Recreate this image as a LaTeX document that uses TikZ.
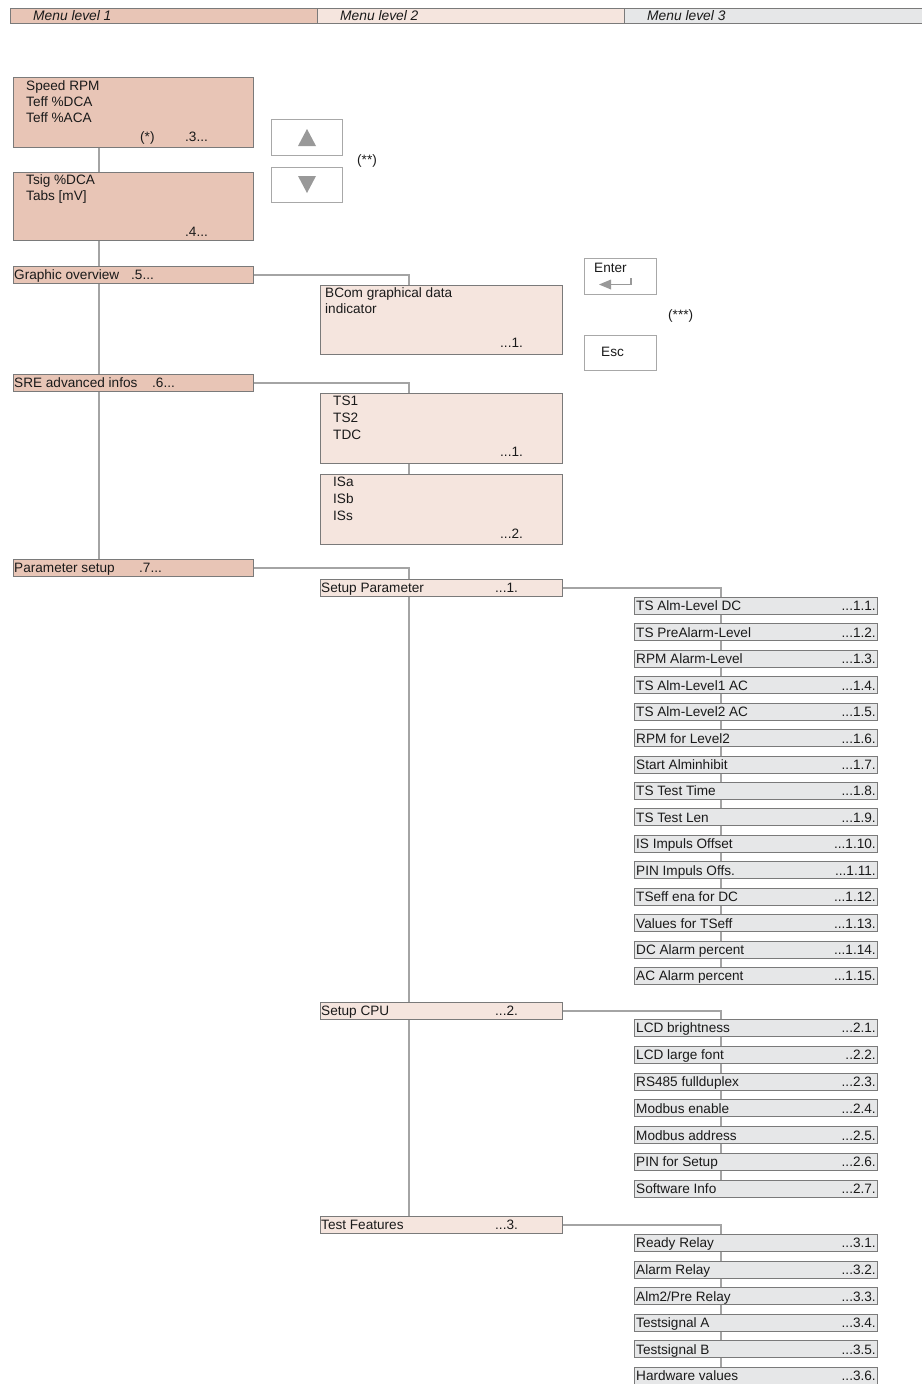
\documentclass[tikz,border=0pt]{standalone}
\usepackage{fontspec}
\setmainfont{Liberation Sans}
\definecolor{lonec}{HTML}{E8C5B6}
\definecolor{ltwoc}{HTML}{F5E5DE}
\definecolor{lthrc}{HTML}{E6E7E8}
\definecolor{bordc}{HTML}{7A7A7A}
\definecolor{connc}{HTML}{A4A4A4}
\definecolor{btnc}{HTML}{A8A8A8}
\definecolor{txtc}{HTML}{1A1A1A}
\definecolor{tric}{HTML}{999999}
\newcommand\mkthree[4]{%
  \node[lthr, anchor=west, minimum width=243pt, minimum height=17pt] (#1) at (634,#2) {};
  \node[txt] at ([xshift=2pt]#1.west) {#3};
  \node[txt, anchor=base east] at ([xshift=-2pt]#1.east) {#4};
}
\begin{document}
\begin{tikzpicture}[x=1pt,y=-1pt]
\tikzset{
  box/.style={draw=bordc, line width=0.9pt, inner sep=0pt, anchor=north west},
  lone/.style={box, fill=lonec},
  ltwo/.style={box, fill=ltwoc},
  lthr/.style={box, fill=lthrc},
  hdr/.style={draw=bordc, line width=0.9pt, inner sep=0pt, anchor=north west, minimum height=15pt},
  txt/.style={inner sep=0pt, anchor=base west, yshift=-4.9pt, font=\fontsize{13.6}{15}\selectfont, text=txtc},
  htxt/.style={txt, font=\fontsize{13.8}{15}\selectfont\itshape},
  conn/.style={draw=connc, line width=1.1pt},
  btn/.style={draw=btnc, line width=0.8pt, fill=white, inner sep=0pt, anchor=north west},
}
\useasboundingbox (0,0) rectangle (921,1384);
% header
\node[hdr, fill=lonec, minimum width=307pt] (h1) at (10,8) {};
\node[hdr, fill=ltwoc, minimum width=307pt] (h2) at (317,8) {};
\node[hdr, fill=lthrc, minimum width=310pt] (h3) at (624,8) {};
\node[htxt] at (33,15.5) {Menu level 1};
\node[htxt] at (340,15.5) {Menu level 2};
\node[htxt] at (647,15.5) {Menu level 3};

% trunk coordinates
\coordinate (t1) at (99,0);
\coordinate (t2) at (409,0);
\coordinate (t3) at (721,0);

% level 1
\node[lone, minimum width=240pt, minimum height=70pt] (bA) at (13,77) {};
\node[txt] at (26,86) {Speed RPM};
\node[txt] at (26,102) {Teff \%DCA};
\node[txt] at (26,118) {Teff \%ACA};
\node[txt] at (140,137) {(*)};
\node[txt] at (185,137) {.3...};

\node[lone, minimum width=240pt, minimum height=68pt] (bB) at (13,172) {};
\node[txt] at (26,180) {Tsig \%DCA};
\node[txt] at (26,196) {Tabs [mV]};
\node[txt] at (185,232) {.4...};

\node[lone, minimum width=240pt, minimum height=17pt] (go) at (13,266) {};
\node[txt] at (14,274.5) {Graphic overview};
\node[txt] at (131,274.5) {.5...};

\node[lone, minimum width=240pt, minimum height=17pt] (sre) at (13,374) {};
\node[txt] at (14,382.5) {SRE advanced infos};
\node[txt] at (152,382.5) {.6...};

\node[lone, minimum width=240pt, minimum height=17pt] (ps) at (13,559) {};
\node[txt] at (14,567.5) {Parameter setup};
\node[txt] at (139,567.5) {.7...};

\draw[conn] (bA.south -| t1) -- (bB.north -| t1);
\draw[conn] (bB.south -| t1) -- (go.north -| t1);
\draw[conn] (go.south -| t1) -- (sre.north -| t1);
\draw[conn] (sre.south -| t1) -- (ps.north -| t1);

% buttons
\node[btn, minimum width=71pt, minimum height=36pt] (up) at (271,119) {};
\fill[tric] (298,146) -- (307,129) -- (316,146) -- cycle;
\node[btn, minimum width=71pt, minimum height=35pt] (dn) at (271,167) {};
\fill[tric] (298,176) -- (307,193) -- (316,176) -- cycle;
\node[txt] at (357,160) {(**)};

\node[btn, minimum width=72pt, minimum height=36pt] (en) at (584,258) {};
\node[txt] at (594,268) {Enter};
\draw[tric, line width=1.1pt] (631,278) -- (631,284.5) -- (609,284.5);
\fill[tric] (599,284.5) -- (611,279.5) -- (611,289.5) -- cycle;
\node[txt] at (668,315) {(***)};
\node[btn, minimum width=72pt, minimum height=35pt] (esc) at (584,335) {};
\node[txt] at (601,352) {Esc};

% level 2
\node[ltwo, minimum width=242pt, minimum height=69pt] (bc) at (320,285) {};
\node[txt] at (325,292.5) {BCom graphical data};
\node[txt] at (325,308.5) {indicator};
\node[txt] at (500,342.5) {...1.};
\draw[conn] (go.east) -| (bc.north -| t2);

\node[ltwo, minimum width=242pt, minimum height=70pt] (ts) at (320,393) {};
\node[txt] at (333,400.5) {TS1};
\node[txt] at (333,417.5) {TS2};
\node[txt] at (333,434.5) {TDC};
\node[txt] at (500,451.5) {...1.};
\draw[conn] (sre.east) -| (ts.north -| t2);

\node[ltwo, minimum width=242pt, minimum height=70pt] (is) at (320,474) {};
\node[txt] at (333,482) {ISa};
\node[txt] at (333,498.5) {ISb};
\node[txt] at (333,516) {ISs};
\node[txt] at (500,533.5) {...2.};
\draw[conn] (ts.south -| t2) -- (is.north -| t2);

\node[ltwo, minimum width=242pt, minimum height=17pt] (sp) at (320,579) {};
\node[txt] at (321,588) {Setup Parameter};
\node[txt] at (495,588) {...1.};
\node[ltwo, minimum width=242pt, minimum height=17pt] (cpu) at (320,1002) {};
\node[txt] at (321,1010.5) {Setup CPU};
\node[txt] at (495,1010.5) {...2.};
\node[ltwo, minimum width=242pt, minimum height=17pt] (tf) at (320,1216) {};
\node[txt] at (321,1224.5) {Test Features};
\node[txt] at (495,1224.5) {...3.};
\draw[conn] (ps.east) -| (sp.north -| t2);
\draw[conn] (sp.south -| t2) -- (cpu.north -| t2);
\draw[conn] (cpu.south -| t2) -- (tf.north -| t2);

% level 3
\mkthree{a1}{606}{TS Alm-Level DC}{...1.1.}
\mkthree{a2}{632.4}{TS PreAlarm-Level}{...1.2.}
\mkthree{a3}{658.9}{RPM Alarm-Level}{...1.3.}
\mkthree{a4}{685.3}{TS Alm-Level1 AC}{...1.4.}
\mkthree{a5}{711.7}{TS Alm-Level2 AC}{...1.5.}
\mkthree{a6}{738.2}{RPM for Level2}{...1.6.}
\mkthree{a7}{764.6}{Start Alminhibit}{...1.7.}
\mkthree{a8}{791}{TS Test Time}{...1.8.}
\mkthree{a9}{817.4}{TS Test Len}{...1.9.}
\mkthree{a10}{843.9}{IS Impuls Offset}{...1.10.}
\mkthree{a11}{870.3}{PIN Impuls Offs.}{...1.11.}
\mkthree{a12}{896.7}{TSeff ena for DC}{...1.12.}
\mkthree{a13}{923.2}{Values for TSeff}{...1.13.}
\mkthree{a14}{949.6}{DC Alarm percent}{...1.14.}
\mkthree{a15}{976}{AC Alarm percent}{...1.15.}

\mkthree{b1}{1028}{LCD brightness}{...2.1.}
\mkthree{b2}{1054.8}{LCD large font}{..2.2.}
\mkthree{b3}{1081.6}{RS485 fullduplex}{...2.3.}
\mkthree{b4}{1108.4}{Modbus enable}{...2.4.}
\mkthree{b5}{1135.2}{Modbus address}{...2.5.}
\mkthree{b6}{1162}{PIN for Setup}{...2.6.}
\mkthree{b7}{1188.8}{Software Info}{...2.7.}

\mkthree{c1}{1243}{Ready Relay}{...3.1.}
\mkthree{c2}{1269.6}{Alarm Relay}{...3.2.}
\mkthree{c3}{1296.2}{Alm2/Pre Relay}{...3.3.}
\mkthree{c4}{1322.8}{Testsignal A}{...3.4.}
\mkthree{c5}{1349.4}{Testsignal B}{...3.5.}
\mkthree{c6}{1376}{Hardware values}{...3.6.}

\draw[conn] (sp.east) -| (a1.north -| t3);
\foreach \i [evaluate=\i as \j using int(\i+1)] in {1,...,14} {\draw[conn] (a\i.south -| t3) -- (a\j.north -| t3);}
\draw[conn] (cpu.east) -| (b1.north -| t3);
\foreach \i [evaluate=\i as \j using int(\i+1)] in {1,...,6} {\draw[conn] (b\i.south -| t3) -- (b\j.north -| t3);}
\draw[conn] (tf.east) -| (c1.north -| t3);
\foreach \i [evaluate=\i as \j using int(\i+1)] in {1,...,5} {\draw[conn] (c\i.south -| t3) -- (c\j.north -| t3);}
\end{tikzpicture}
\end{document}
